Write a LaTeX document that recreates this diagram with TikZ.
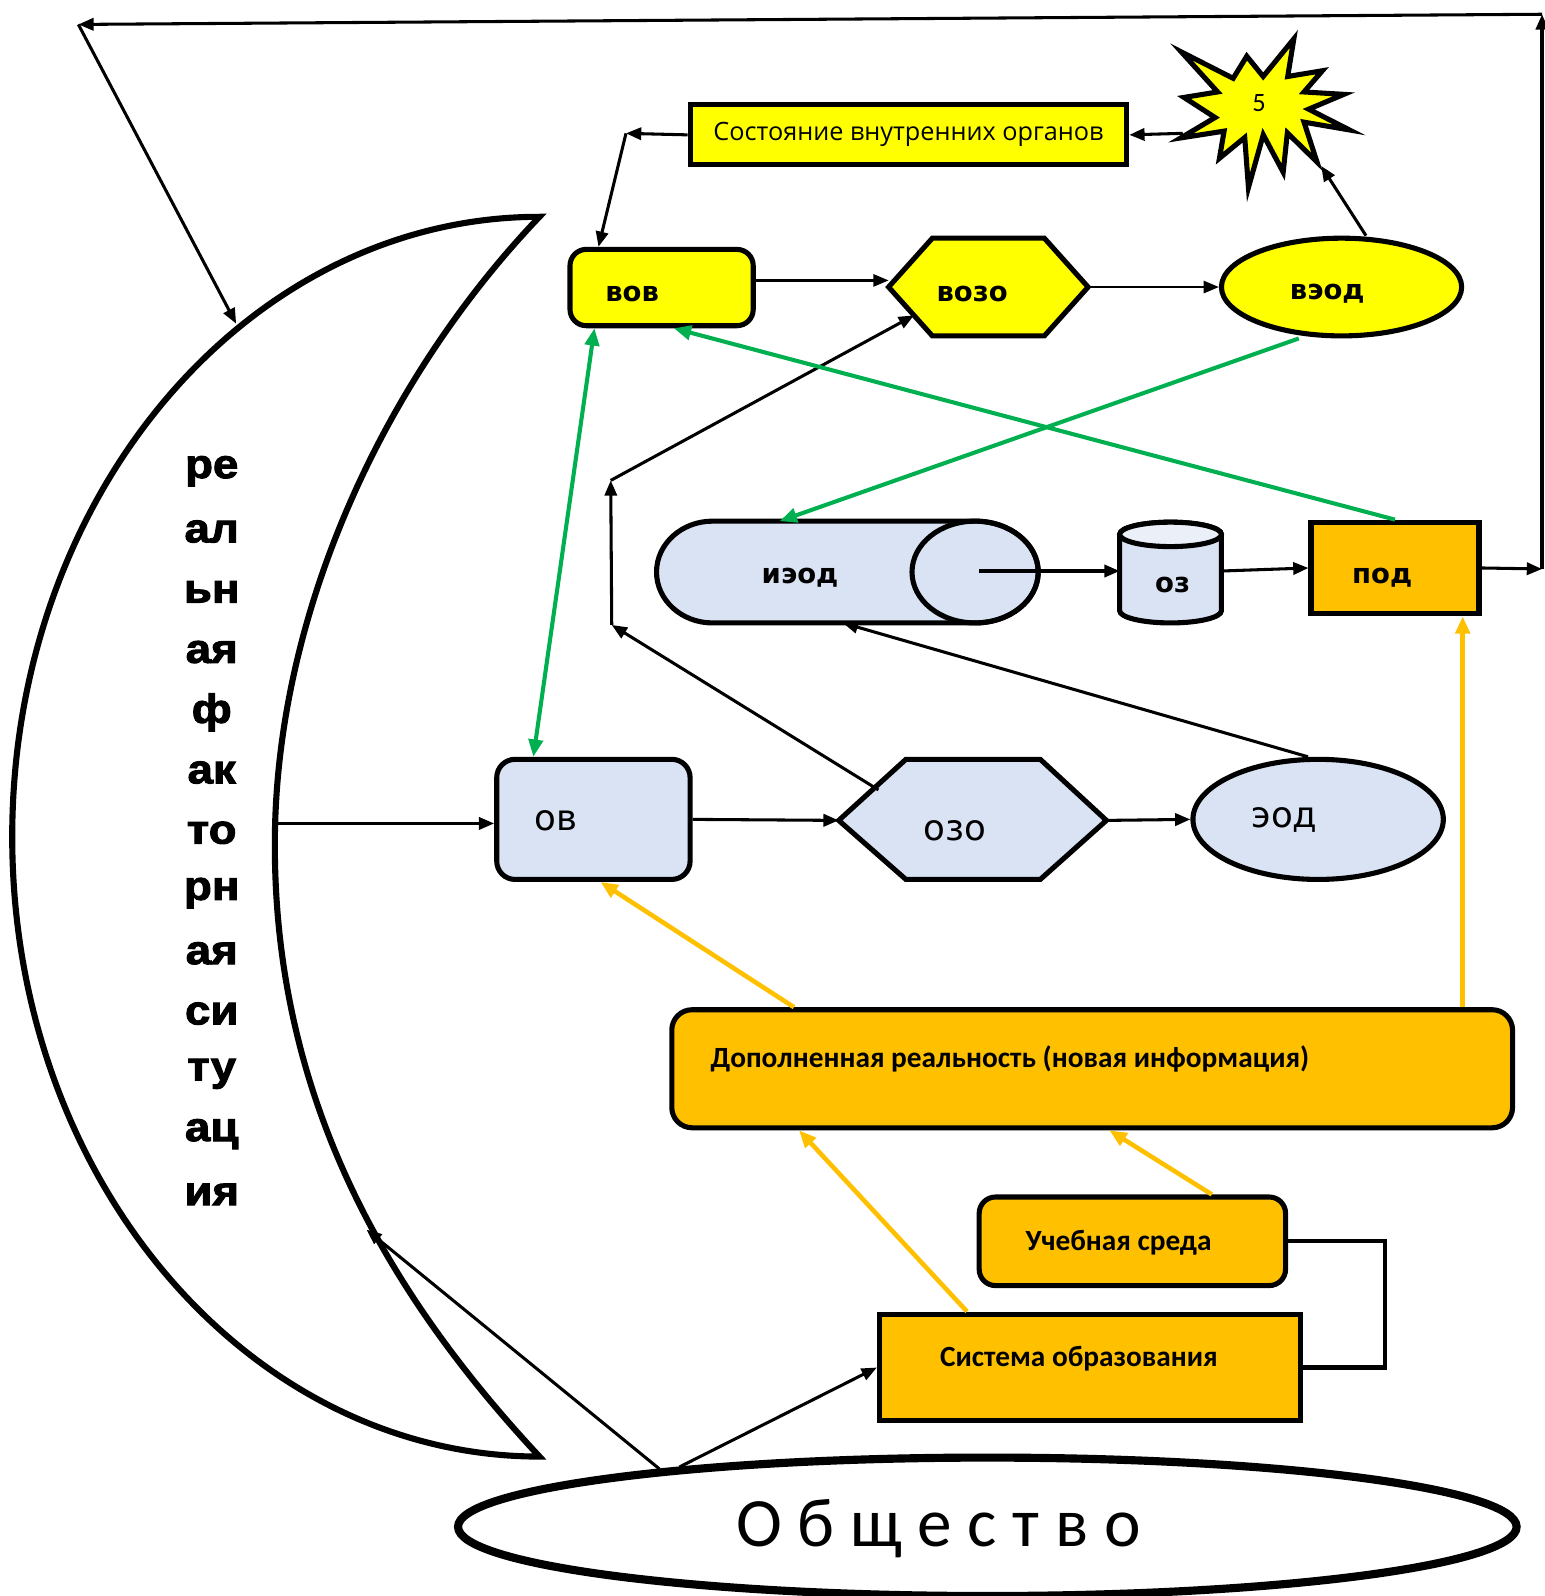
\documentclass[tikz,border=0pt]{standalone}
\usepackage{fontspec}
\setmainfont{Carlito}
\newfontfamily\dvs{DejaVu Sans}
\newfontfamily\osans{Open Sans}
\newfontfamily\heavyfont{Liberation Sans Bold}[FakeBold=2.5,FakeStretch=1.12]
\usetikzlibrary{arrows.meta,shapes.geometric,calc}
\definecolor{yel}{HTML}{FFFF00}
\definecolor{org}{HTML}{FFC000}
\definecolor{lbl}{HTML}{DAE3F3}
\definecolor{grn}{HTML}{00B050}
\begin{document}
\begin{tikzpicture}[x=1pt,y=-1pt,line join=miter,
 bx/.style={draw=black,line width=5pt,inner sep=0},
 rbx/.style={bx,rounded corners=16pt},
 arr/.style={-{Triangle[length=15pt,width=12pt]},line width=3pt},
 garr/.style={draw=grn,line width=4pt,-{Triangle[length=17pt,width=14pt]}},
 gdarr/.style={draw=grn,line width=4pt,{Triangle[length=17pt,width=14pt]}-{Triangle[length=17pt,width=14pt]}},
 oarr/.style={draw=org,line width=4.5pt,-{Triangle[length=17pt,width=14pt]}},
 bt/.style={font=\dvs\bfseries\fontsize{27}{31}\selectfont,inner sep=0},
 rt/.style={font=\dvs\fontsize{35}{39}\selectfont,inner sep=0},
 ct/.style={font=\bfseries\fontsize{28.8}{33}\selectfont,inner sep=0},
 crt/.style={font=\heavyfont\fontsize{40}{44}\selectfont,inner sep=0},
]
\fill[white] (0,0) rectangle (1517,1568);
\useasboundingbox (0,0) rectangle (1517,1568);

% crescent
\draw[line width=6pt,fill=white,miter limit=25] (530,213) arc[start angle=270,end angle=90,x radius=518,y radius=609] .. controls (380,1270) and (270,1080) .. (270,830) .. controls (270,600) and (380,370) .. (530,213) -- cycle;
\foreach \w [count=\i] in {ре,ал,ьн,ая,ф,ак,то,рн,ая,си,ту,ац,ия}
  \node[crt] (cw\i) at (208,{403.8+59.2*\i}) {\w};

% coordinates
\coordinate (tr) at (1515,14);
\coordinate (tl) at (77,24);
\coordinate (rr) at (1515,559);
\coordinate (crA) at (232,318);
\coordinate (crIn) at (272,809);
\coordinate (crB) at (360,1208);
\coordinate (starL) at (1162,131);
\coordinate (starB) at (1298,163);
\coordinate (c1) at (615,131);
\coordinate (c2) at (601,614);
\coordinate (c3) at (600,472);
\coordinate (ozoE) at (863,776);

% star
\begin{scope}[shift={(1242,110)},scale=0.91,shift={(-1242,-110)}]
\draw[line width=5pt,fill=yel] (1152.6,45.2) -- (1208.5,73.7) -- (1223.2,49.8) -- (1240.9,71.7) -- (1274,31.1) -- (1267.4,71.7) -- (1304.8,65.5) -- (1285,88.4) -- (1328,91) -- (1290,107) -- (1334,129.4) -- (1285,121) -- (1299,164) -- (1267,132.6) -- (1262.5,175) -- (1241,134.6) -- (1225,191.6) -- (1221,137.6) -- (1193.7,160) -- (1198.7,130.7) -- (1152,138) -- (1189,116) -- (1155.4,94.3) -- (1191.7,88.4) -- cycle;
\end{scope}
\node[font=\fontsize{26}{30}\selectfont,inner sep=0] (star) at (1237,101) {5};

% top row
\node[bx,fill=yel,minimum width=429,minimum height=59,font=\osans\fontsize{24.8}{28}\selectfont] (sost) at (892.5,132.5) {Состояние внутренних органов};
\node[rbx,fill=yel,minimum width=180,minimum height=75] (vov) at (650,282.5) {};
\node[bt] (vovt) at (621,289) {вов};
\coordinate (vzL) at (873,282);
\coordinate (vzTL) at (916,234);
\coordinate (vzTR) at (1026,234);
\coordinate (vzR) at (1069,282);
\coordinate (vzBR) at (1026,330);
\coordinate (vzBL) at (916,330);
\draw[line width=5pt,fill=yel] (vzL) -- (vzTL) -- (vzTR) -- (vzR) -- (vzBR) -- (vzBL) -- cycle;
\node[bt] (vozot) at (955,289) {возо};
\node[ellipse,draw,line width=5pt,fill=yel,minimum width=236,minimum height=96,inner sep=0] (veod) at (1318,282) {};
\node[bt] (veodt) at (1304,289) {вэод};

% middle row
\draw[line width=5pt,fill=lbl] (958,512) -- (700,512) arc[start angle=270,end angle=90,x radius=55,y radius=50] -- (958,612) arc[start angle=90,end angle=-90,x radius=62,y radius=50];
\draw[line width=5pt] (958,562) ellipse[x radius=62,y radius=50];
\node[bt] (iodt) at (786,568) {иэод};
\coordinate (iodT) at (766,512);
\coordinate (iodB) at (828,612);
\coordinate (iodC) at (962,561);

\draw[line width=5pt,fill=lbl] (1100,525) -- (1100,600) arc[start angle=180,end angle=0,x radius=50,y radius=12] -- (1200,525) arc[start angle=0,end angle=-180,x radius=50,y radius=12] -- cycle;
\draw[line width=5pt,fill=lbl!55!white] (1150,525) ellipse[x radius=50,y radius=12];
\node[bt] (ozt) at (1152,575) {оз};
\coordinate (ozL) at (1100,561);
\coordinate (ozR) at (1200,561);

\node[bx,fill=org,minimum width=165,minimum height=90] (pod) at (1370.5,558) {};
\node[bt] (podt) at (1358,568) {под};

% lower row
\node[rbx,rounded corners=18pt,fill=lbl,minimum width=190,minimum height=118] (ov) at (583,805) {};
\node[rt] (ovt) at (546,806) {ов};
\coordinate (zoL) at (824,806);
\coordinate (zoTL) at (890,746);
\coordinate (zoTR) at (1022,746);
\coordinate (zoR) at (1087,806);
\coordinate (zoBR) at (1022,864);
\coordinate (zoBL) at (890,864);
\draw[line width=5pt,fill=lbl] (zoL) -- (zoTL) -- (zoTR) -- (zoR) -- (zoBR) -- (zoBL) -- cycle;
\node[rt] (ozot) at (938,816) {озо};
\node[ellipse,draw,line width=5pt,fill=lbl,minimum width=246,minimum height=118,inner sep=0] (eod) at (1295,805) {};
\node[rt] (eodt) at (1262,806) {эод};

% bottom boxes
\node[rbx,rounded corners=20pt,fill=org,minimum width=826,minimum height=116] (dop) at (1073,1050) {};
\node[ct,anchor=west] (dopt) at (698,1040) {Дополненная реальность (новая информация)};
\node[rbx,fill=org,minimum width=301,minimum height=87] (uch) at (1112.5,1219.5) {};
\node[ct] (ucht) at (1099,1221) {Учебная среда};
\node[bx,fill=org,minimum width=414,minimum height=105] (sys) at (1071,1343.5) {};
\node[ct] (syst) at (1060,1335) {Система образования};

\node[ellipse,draw,line width=8pt,minimum width=1040,minimum height=136,inner sep=0] (obsh) at (970,1500) {};
\node[font=\fontsize{68}{74}\selectfont,inner sep=0] (obsht) at (922,1502) {О б щ е с т в о};

% connectors
\draw[arr] (pod.east) -- (rr);
\draw[arr,line width=3.5pt] (rr) -- (tr);
\draw[arr] (tr) -- (tl);
\draw[arr] (tl) -- (crA);
\draw[arr] (starL) -- (sost.east);
\draw[arr] (sost.west) -- (c1);
\draw[arr] (c1) -- ([xshift=-62pt]vov.north);
\draw[arr] ([xshift=24pt]veod.north) -- (starB);
\draw[arr,line width=2.2pt] ([yshift=7pt]vov.east) -- ([yshift=7pt]vov.east -| vzL);
\draw[arr,line width=2.2pt] (vzR) -- (veod.west);
\draw[arr] (iodC) -- (ozL);
\draw[arr] (ozR) -- (pod.west);
\draw[arr] (ozoE) -- (c2);
\draw[arr] (c2) -- (c3);
\draw[arr] (c3) -- ($(vzL)!0.58!(vzBL)$);
\draw[arr] (crIn) -- (crIn -| ov.west);
\draw[arr] (ov.east) -- (zoL);
\draw[arr] (zoR) -- (eod.west);
\draw[arr] ([xshift=-10pt]eod.north) -- (iodB);

\draw[gdarr] ([xshift=-66pt]vov.south) -- ([xshift=-59pt]ov.north);
\draw[garr] (pod.north) -- ([xshift=12pt]vov.south);
\draw[garr] ([xshift=-42pt]veod.south) -- (iodT);

\draw[oarr] ([xshift=-293pt]dop.north) -- ([xshift=7pt]ov.south);
\draw[oarr] ([xshift=364pt]dop.north) -- ([xshift=66.5pt]pod.south);
\draw[oarr] ([xshift=-121pt]sys.north) -- ([xshift=-288pt]dop.south);
\draw[oarr] ([xshift=78pt]uch.north) -- ([xshift=17pt]dop.south);
\draw[line width=4pt] (uch.east) -- ++(95,0) |- (sys.east);

\draw[arr] (obsh.170) -- (crB);
\draw[arr] (obsh.169) -- (sys.west);
\end{tikzpicture}
\end{document}
